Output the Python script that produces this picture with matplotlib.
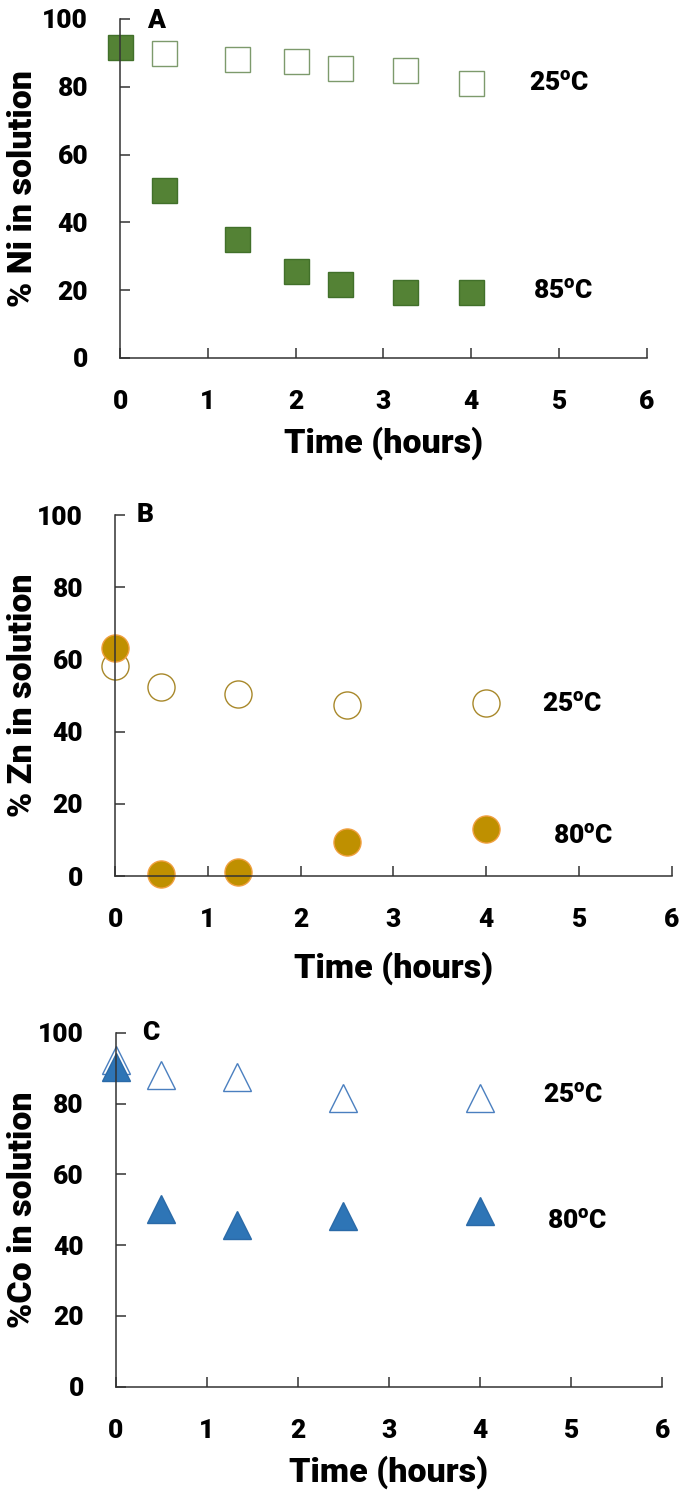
import matplotlib
matplotlib.use("Agg")
import matplotlib.pyplot as plt

FONT = ['Roboto', 'DejaVu Sans']
W = 'black'
plt.rcParams['font.family'] = FONT
plt.rcParams['font.weight'] = W
plt.rcParams['mathtext.fontset'] = 'custom'
plt.rcParams['mathtext.rm'] = 'Roboto:black'
plt.rcParams['mathtext.bf'] = 'Roboto:black'

# ---------------- data ----------------
# Panel A: Ni
ni_t25 = [0.5, 1.33, 2.0, 2.5, 3.25, 4.0]
ni_v25 = [90.0, 88.2, 87.7, 85.6, 85.0, 81.0]
ni_t85 = [0.0, 0.5, 1.33, 2.0, 2.5, 3.25, 4.0]
ni_v85 = [91.7, 49.7, 35.2, 25.6, 21.9, 19.6, 19.6]

# Panel B: Zn
zn_t25 = [0.0, 0.5, 1.33, 2.5, 4.0]
zn_v25 = [58.3, 52.5, 50.5, 47.5, 47.9]
zn_t80 = [0.0, 0.5, 1.33, 2.5, 4.0]
zn_v80 = [63.1, 0.6, 1.1, 9.4, 12.9]

# Panel C: Co
co_t25 = [0.0, 0.5, 1.33, 2.5, 4.0]
co_v25 = [92.4, 88.2, 87.6, 81.6, 81.6]
co_t80 = [0.0, 0.5, 1.33, 2.5, 4.0]
co_v80 = [90.3, 50.3, 45.8, 48.2, 49.8]

xticks = [0, 1, 2, 3, 4, 5, 6]
yticks = [0, 20, 40, 60, 80, 100]

fig = plt.figure(figsize=(6.85, 14.96), dpi=100)

axA = fig.add_axes([0.1752, 0.7607, 0.7693, 0.2266])
axB = fig.add_axes([0.1679, 0.4144, 0.8131, 0.2413])
axC = fig.add_axes([0.1689, 0.0731, 0.7980, 0.2364])

TICK_FS = 19
LAB_FS = 24.5

def style(ax, ylabel, xlab_y, ylab_x):
    ax.set_xlim(0, 6)
    ax.set_ylim(0, 100)
    ax.set_xticks(xticks)
    ax.set_yticks(yticks)
    for s in ['top', 'right']:
        ax.spines[s].set_visible(False)
    for s in ['left', 'bottom']:
        ax.spines[s].set_color('#333333')
        ax.spines[s].set_linewidth(1.1)
    ax.tick_params(direction='in', length=7, width=1.1, color='#333333',
                   labelsize=TICK_FS, pad=23)
    for lab in ax.get_xticklabels() + ax.get_yticklabels():
        lab.set_fontweight(W)
    ax.set_xlabel('Time (hours)', fontsize=LAB_FS, fontweight=W)
    ax.set_ylabel(ylabel, fontsize=LAB_FS, fontweight=W)
    ax.xaxis.set_label_coords(0.5, xlab_y)
    ax.yaxis.set_label_coords(ylab_x, 0.5)
    ax.patch.set_alpha(0)

def lbl(ax, x, y, s):
    ax.text(x, y, s, fontsize=TICK_FS, fontweight=W, ha='center', va='center', clip_on=False)

# Panel A
axA.plot(ni_t25, ni_v25, linestyle='none', marker='s', markersize=18,
         markerfacecolor='white', markeredgecolor='#7d9a6c', markeredgewidth=1.0, clip_on=False)
axA.plot(ni_t85, ni_v85, linestyle='none', marker='s', markersize=18,
         markerfacecolor='#548235', markeredgecolor='#41702a', markeredgewidth=1.0, clip_on=False)
style(axA, '% Ni in solution', -0.201, -0.154)
lbl(axA, 5.0, 81.0, '25$^{\\mathrm{o}}$C')
lbl(axA, 5.05, 19.7, '85$^{\\mathrm{o}}$C')
lbl(axA, 0.41, 99.5, 'A')

# Panel B
axB.plot(zn_t25, zn_v25, linestyle='none', marker='o', markersize=19.5,
         markerfacecolor='white', markeredgecolor='#a8882a', markeredgewidth=1.0, clip_on=False)
axB.plot(zn_t80, zn_v80, linestyle='none', marker='o', markersize=19.5,
         markerfacecolor='#bf9000', markeredgecolor='#f0a040', markeredgewidth=1.0, clip_on=False)
style(axB, '% Zn in solution', -0.208, -0.1365)
lbl(axB, 4.93, 47.5, '25$^{\\mathrm{o}}$C')
lbl(axB, 5.04, 11.0, '80$^{\\mathrm{o}}$C')
lbl(axB, 0.32, 100.0, 'B')

# Panel C
axC.plot(co_t25, co_v25, linestyle='none', marker='^', markersize=19.5,
         markerfacecolor='white', markeredgecolor='#4a7fbf', markeredgewidth=1.0, clip_on=False)
axC.plot(co_t80, co_v80, linestyle='none', marker='^', markersize=19.5,
         markerfacecolor='#2e75b6', markeredgecolor='#2a6aa8', markeredgewidth=1.0, clip_on=False)
style(axC, '%Co in solution', -0.195, -0.1403)
lbl(axC, 5.02, 82.3, '25$^{\\mathrm{o}}$C')
lbl(axC, 5.07, 46.7, '80$^{\\mathrm{o}}$C')
lbl(axC, 0.38, 100.0, 'C')

fig.savefig('out.png', dpi=100)
